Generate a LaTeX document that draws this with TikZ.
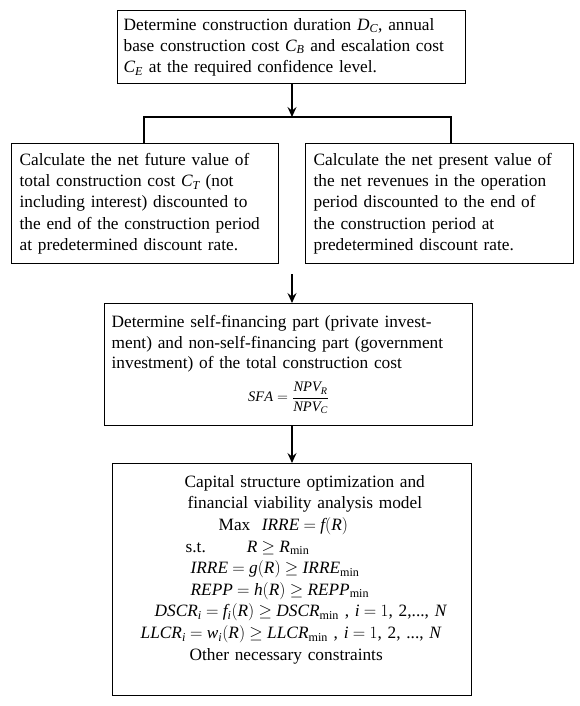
\documentclass[tikz,border=0pt]{standalone}
\usepackage{amsmath}
\usepackage{fontspec}
\setmainfont{Liberation Serif}
\usetikzlibrary{arrows.meta}
\definecolor{ink}{HTML}{000000}
\definecolor{paper}{HTML}{FFFFFF}
\tikzset{
  stage/.style={draw=ink, line width=1.3pt, fill=paper, anchor=north west, inner xsep=8pt, inner ysep=3pt, align=left, text=ink, font=\fontsize{17.3}{21.3}\selectfont},
  flow/.style={draw=ink, line width=1.1pt, -{Stealth[length=10pt, width=9pt, inset=3.5pt]}},
  link/.style={draw=ink, line width=1.1pt}
}

\begin{document}
\begin{tikzpicture}[x=1pt,y=-1pt]
\useasboundingbox (0,0) rectangle (580,706);
\node[stage, inner xsep=6pt, text width=336pt, minimum height=73pt] (det) at (117,10) {Determine construction duration $\mathit{D}_{\mathit{C}}$, annual\\ base construction cost $\mathit{C}_{\mathit{B}}$ and escalation cost\\ $\mathit{C}_{\mathit{E}}$ at the required confidence level.};
\node[stage, text width=251pt, minimum height=120pt] (fut) at (11,143) {Calculate the net future value of\\ total construction cost $\mathit{C}_{\mathit{T}}$ (not\\ including interest) discounted to\\ the end of the construction period\\ at predetermined discount rate.};
\node[stage, text width=252pt, minimum height=120pt] (pres) at (305,143) {Calculate the net present value of\\ the net revenues in the operation\\ period discounted to the end of\\ the construction period at\\ predetermined discount rate.};
\node[stage, font=\fontsize{17.3}{20.5}\selectfont, inner xsep=7pt, text width=354pt, minimum height=122pt] (part) at (104,303) {Determine self-financing part (private invest-\\ ment) and non-self-financing part (government\\ investment) of the total construction cost\\[9pt] \makebox[\linewidth]{\fontsize{14.5}{16}\selectfont$\mathit{SFA}=\dfrac{\mathit{NPV}_{\mathit{R}}}{\mathit{NPV}_{\mathit{C}}}$}};
\node[stage, font=\fontsize{17.3}{21.6}\selectfont, inner xsep=22pt, text width=315pt, minimum height=232pt] (opt) at (112,463) {\thickmuskip=4.5mu plus 2mu\medmuskip=3.5mu\relax
\hspace*{50pt}Capital structure optimization and\\ \hspace*{53pt}financial viability analysis model\\ \hspace*{84pt}Max\ \ $\mathit{IRRE}=\mathit{f}(\mathit{R})$\\ \hspace*{51pt}s.t.\hspace{41pt}$\mathit{R}\geq\mathit{R}_{\min}$\\ \hspace*{56pt}$\mathit{IRRE}=\mathit{g}(\mathit{R})\geq\mathit{IRRE}_{\min}$\\ \hspace*{56pt}$\mathit{REPP}=\mathit{h}(\mathit{R})\geq\mathit{REPP}_{\min}$\\ \mbox{\hspace*{20pt}$\mathit{DSCR}_{\mathit{i}}=\mathit{f}_{\mathit{i}}(\mathit{R})\geq\mathit{DSCR}_{\min}$ , $\mathit{i}=1$, 2,..., $\mathit{N}$}\\ \mbox{\hspace*{6pt}$\mathit{LLCR}_{\mathit{i}}=\mathit{w}_{\mathit{i}}(\mathit{R})\geq\mathit{LLCR}_{\min}$ , $\mathit{i}=1$, 2, ..., $\mathit{N}$}\\ \hspace*{55pt}Other necessary constraints\rule[-24pt]{0pt}{24pt}};
\coordinate (join) at (292,117);
\coordinate (jl) at (144,117);
\coordinate (jr) at (451,117);
\coordinate (gap) at (292,274);
\draw[flow] (det.south -| join) -- (join);
\draw[link] (jl |- fut.north) -- (jl) -- (jr) -- (jr |- pres.north);
\draw[flow] (gap) -- (gap |- part.north);
\draw[flow] (part.south -| gap) -- (gap |- opt.north);
\end{tikzpicture}
\end{document}
